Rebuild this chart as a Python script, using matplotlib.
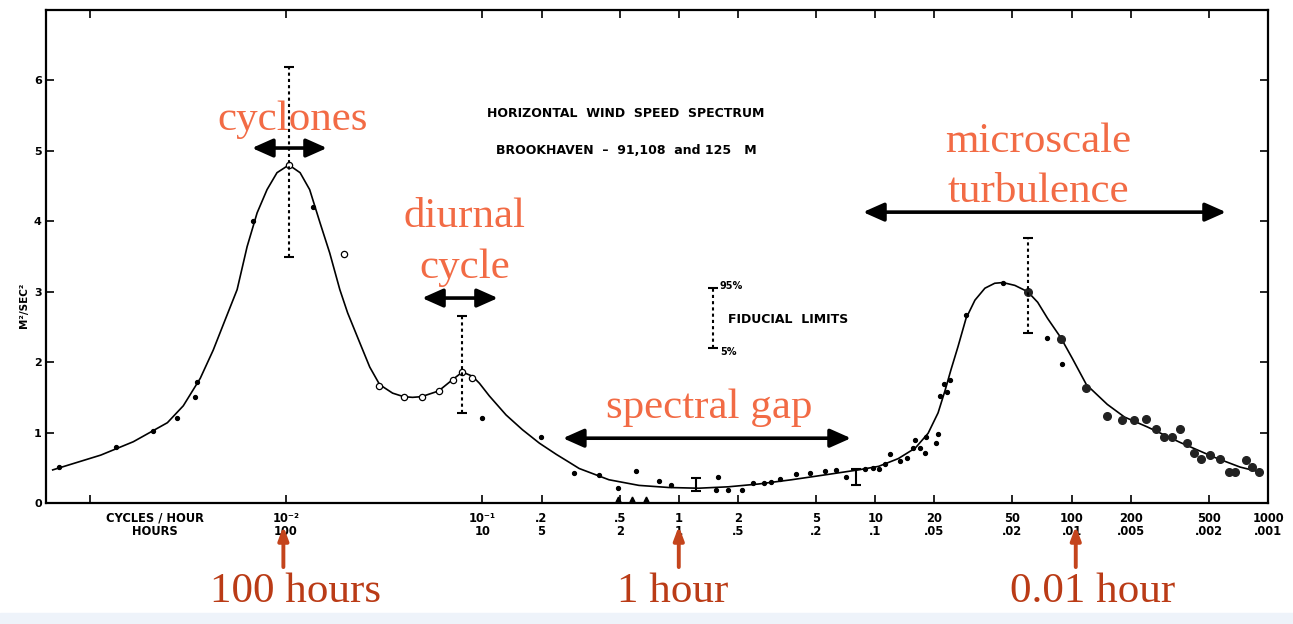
import matplotlib
matplotlib.use('Agg')
import matplotlib.pyplot as plt
from matplotlib.patches import Rectangle
from matplotlib.ticker import NullLocator

# smooth spectrum curve (cycles/hour, m^2/s^2)
curve_freq = [6.49e-4, 1.14e-3, 1.67e-3, 2.49e-3, 3.00e-3, 3.66e-3, 4.26e-3, 4.90e-3, 5.64e-3,
              6.34e-3, 7.13e-3, 8.01e-3, 9.00e-3, 1.035e-2, 1.18e-2, 1.32e-2, 1.49e-2, 1.67e-2,
              1.88e-2, 2.06e-2, 2.38e-2, 2.67e-2, 3.00e-2, 3.49e-2, 3.97e-2, 4.41e-2, 4.90e-2,
              5.98e-2, 7.04e-2, 7.91e-2, 8.90e-2, 9.66e-2, 0.1085, 0.132, 0.160, 0.195, 0.238,
              0.276, 0.311, 0.441, 0.627, 0.890, 1.26, 1.79, 2.55, 3.75, 5.57, 8.20, 10.4, 13.1,
              16.0, 18.6, 20.9, 22.7, 24.3, 26.4, 29.0, 32.2, 36.2, 40.6, 44.7, 51.4, 59.8, 67.2,
              75.5, 88.0, 101, 119, 152, 186, 243, 357, 532, 721, 910]
curve_val = [0.47, 0.68, 0.87, 1.14, 1.38, 1.77, 2.17, 2.60, 3.03, 3.64, 4.12, 4.45, 4.69, 4.80,
             4.69, 4.45, 3.98, 3.55, 3.03, 2.70, 2.27, 1.93, 1.68, 1.56, 1.51, 1.50, 1.51, 1.59,
             1.75, 1.86, 1.80, 1.70, 1.52, 1.25, 1.04, 0.85, 0.69, 0.58, 0.49, 0.33, 0.25, 0.22,
             0.21, 0.23, 0.27, 0.33, 0.40, 0.47, 0.52, 0.63, 0.78, 0.99, 1.28, 1.60, 1.89, 2.22,
             2.62, 2.88, 3.05, 3.12, 3.13, 3.09, 3.00, 2.85, 2.62, 2.35, 2.05, 1.68, 1.40, 1.22,
             1.08, 0.86, 0.65, 0.51, 0.44]

# measured points
dot_freq = [6.97e-4, 1.37e-3, 2.11e-3, 2.80e-3, 3.45e-3, 3.53e-3, 6.8e-3, 1.37e-2, 0.100, 0.199,
            0.293, 0.393, 0.490, 0.605, 0.792, 0.910, 1.58, 1.54, 1.79, 2.09, 2.38, 2.70, 2.96,
            3.29, 3.97, 4.68, 5.57, 6.34, 7.13, 8.89, 9.77, 10.5, 11.2, 11.9, 13.4, 14.5, 15.6,
            16.0, 16.9, 17.9, 18.2, 20.4, 20.9, 21.4, 22.4, 23.2, 24.0, 29.0, 44.7, 74.7, 89.0]
dot_val = [0.51, 0.80, 1.02, 1.20, 1.50, 1.72, 4.00, 4.20, 1.20, 0.94, 0.42, 0.40, 0.21, 0.46,
           0.31, 0.26, 0.37, 0.18, 0.18, 0.18, 0.28, 0.29, 0.30, 0.34, 0.41, 0.42, 0.45, 0.47,
           0.37, 0.48, 0.50, 0.48, 0.55, 0.70, 0.60, 0.64, 0.78, 0.89, 0.78, 0.71, 0.94, 0.85,
           0.98, 1.52, 1.69, 1.58, 1.75, 2.67, 3.13, 2.34, 1.97]
open_freq = [1.04e-2, 1.97e-2, 2.97e-2, 3.97e-2, 4.90e-2, 5.98e-2, 7.05e-2, 7.91e-2, 8.89e-2]
open_val = [4.80, 3.54, 1.66, 1.50, 1.50, 1.59, 1.75, 1.86, 1.78]
big_freq = [59.8, 88.0, 119, 151, 180, 209, 238, 270, 297, 326, 357, 388, 421, 457, 508, 570,
            634, 680, 773, 829, 899]
big_val = [3.00, 2.33, 1.63, 1.24, 1.18, 1.18, 1.19, 1.05, 0.94, 0.94, 1.05, 0.85, 0.71, 0.62,
           0.68, 0.62, 0.44, 0.44, 0.61, 0.51, 0.44]
tri_freq = [0.49, 0.58, 0.68]
tri_val = [0.05, 0.05, 0.05]

# fiducial limits (5% - 95%)
fid_freq = [1.04e-2, 7.91e-2, 59.8, 1.49]
fid_lo = [3.49, 1.28, 2.41, 2.20]
fid_hi = [6.19, 2.66, 3.76, 3.05]
gap_freq = [1.22, 8.0]
gap_lo = [0.17, 0.25]
gap_hi = [0.35, 0.48]

# axis ticks: cycles per hour and period in hours
tick_freq = [1e-3, 1e-2, 0.1, 0.2, 0.5, 1, 2, 5, 10, 20, 50, 100, 200, 500, 1000]
cph_labels = ['', '10⁻²', '10⁻¹', '.2', '.5', '1', '2', '5', '10', '20', '50', '100', '200',
              '500', '1000']
hour_labels = ['', '100', '10', '5', '2', '1', '.5', '.2', '.1', '.05', '.02', '.01', '.005',
               '.002', '.001']

orange = '#F26B45'
darkred = '#BA3B16'

fig = plt.figure(figsize=(12.93, 6.24), dpi=100)
fig.patches.append(Rectangle((0, 0), 1, 11 / 624, transform=fig.transFigure,
                             color='#EEF3FA', zorder=0))
ax = fig.add_axes([46 / 1293, 1 - 503 / 624, 1222 / 1293, 493 / 624])

ax.plot(curve_freq, curve_val, color='black', lw=1.2, solid_joinstyle='round')
ax.plot(dot_freq, dot_val, 'o', color='black', ms=2.8)
ax.plot(open_freq, open_val, 'o', mfc='white', mec='black', mew=0.9, ms=4.5)
ax.plot(big_freq, big_val, 'o', color='#222222', ms=5.5)
ax.plot(tri_freq, tri_val, '^', color='black', ms=3.5, clip_on=False)

ax.vlines(fid_freq, fid_lo, fid_hi, colors='black', linestyles=(0, (1.5, 1.5)), lw=1.5)
ax.plot(fid_freq, fid_lo, '_', color='black', ms=7, mew=1.5)
ax.plot(fid_freq, fid_hi, '_', color='black', ms=7, mew=1.5)
ax.vlines(gap_freq, gap_lo, gap_hi, colors='black', lw=1.5)
ax.plot(gap_freq, gap_lo, '_', color='black', ms=7, mew=1.5)
ax.plot(gap_freq, gap_hi, '_', color='black', ms=7, mew=1.5)

ax.set_xscale('log')
ax.set_xlim(6.0e-4, 1000)
ax.set_ylim(0, 7)
ax.set_xticks(tick_freq)
ax.set_xticklabels([''] * len(tick_freq))
ax.xaxis.set_minor_locator(NullLocator())
ax.set_yticks(range(7))
ax.set_yticklabels([str(i) for i in range(7)], fontsize=8, fontweight='bold')
ax.tick_params(which='both', direction='in', top=True, right=True, length=6, width=1.2, pad=3)
for s in ax.spines.values():
    s.set_linewidth(1.6)

lab = dict(fontsize=8.3, fontweight='bold', ha='center', va='center',
           transform=ax.get_xaxis_transform())
for f, a, b in zip(tick_freq, cph_labels, hour_labels):
    ax.text(f, -0.031, a, **lab)
    ax.text(f, -0.057, b, **lab)
ax.text(2.15e-3, -0.031, 'CYCLES / HOUR', **lab)
ax.text(2.15e-3, -0.057, 'HOURS', **lab)
fig.text(24 / 1293, 1 - 305 / 624, 'M²/SEC²', rotation=90, fontsize=7.5, fontweight='bold',
         ha='center', va='center')

ax.text(0.474, 0.791, 'HORIZONTAL  WIND  SPEED  SPECTRUM', transform=ax.transAxes,
        fontsize=9, fontweight='bold', ha='center', va='center')
ax.text(0.475, 0.716, 'BROOKHAVEN  –  91,108  and 125   M', transform=ax.transAxes,
        fontsize=9, fontweight='bold', ha='center', va='center')
ax.text(1.62, 3.08, '95%', fontsize=7, fontweight='bold', va='center')
ax.text(1.62, 2.14, '5%', fontsize=7, fontweight='bold', va='center')
ax.text(1.78, 2.60, 'FIDUCIAL  LIMITS', fontsize=9, fontweight='bold', va='center')

serif = dict(family='Liberation Serif', fontsize=31, ha='center', va='baseline')
ax.text(1.085e-2, 5.30, 'cyclones', color=orange, **serif)
ax.text(8.1e-2, 3.92, 'diurnal', color=orange, **serif)
ax.text(8.1e-2, 3.20, 'cycle', color=orange, **serif)
ax.text(1.42, 1.21, 'spectral gap', color=orange, **serif)
ax.text(67.9, 4.99, 'microscale', color=orange, **serif)
ax.text(67.9, 4.28, 'turbulence', color=orange, **serif)

arrow = dict(arrowstyle='<|-|>,head_length=0.9,head_width=0.4', lw=2.6, color='black',
             shrinkA=0, shrinkB=0, mutation_scale=14)
for x0, x1, y in [(6.71e-3, 1.617e-2, 5.04), (4.93e-2, 0.120, 2.91),
                  (0.257, 7.53, 0.92), (8.67, 611, 4.13)]:
    ax.annotate('', xy=(x1, y), xytext=(x0, y), arrowprops=arrow)

tr = ax.get_xaxis_transform()
red_arrow = dict(arrowstyle='-|>,head_length=0.8,head_width=0.3', lw=2.8, color='#C4441C',
                 shrinkA=0, shrinkB=0, mutation_scale=10)
for f in [0.0097, 1.0, 105]:
    ax.annotate('', xy=(f, -0.047), xytext=(f, -0.130), xycoords=tr, textcoords=tr,
                arrowprops=red_arrow, annotation_clip=False)
ax.text(1.12e-2, -0.201, '100 hours', color=darkred, transform=tr, clip_on=False, **serif)
ax.text(0.932, -0.201, '1 hour', color=darkred, transform=tr, clip_on=False, **serif)
ax.text(128, -0.201, '0.01 hour', color=darkred, transform=tr, clip_on=False, **serif)

fig.savefig('out.png', dpi=100)
